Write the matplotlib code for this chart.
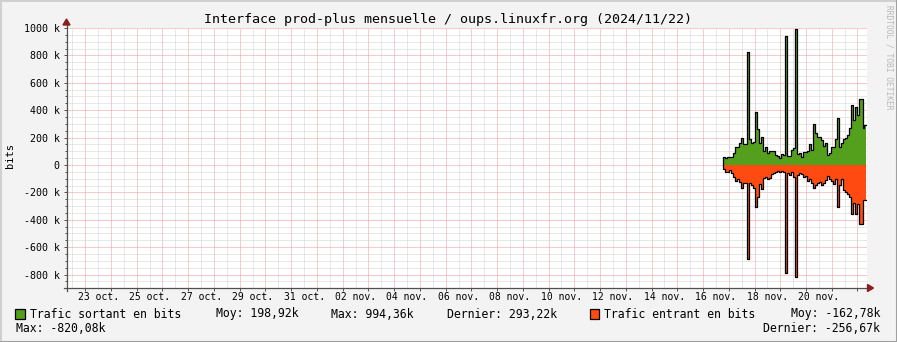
import matplotlib
matplotlib.use("Agg")
import matplotlib.pyplot as plt
from matplotlib.patches import Rectangle, Polygon
from matplotlib.lines import Line2D
from matplotlib.ticker import FixedLocator, FuncFormatter
import numpy as np
from datetime import datetime, timedelta

W, H = 897, 342
DPI = 100

title = "Interface prod-plus mensuelle / oups.linuxfr.org (2024/11/22)"
ylabel = "bits"
watermark = "RRDTOOL / TOBI OETIKER"

# time window of the graph
ref_time = datetime(2024, 10, 23)
view_start = datetime(2024, 10, 22, 6, 30)
view_end = datetime(2024, 11, 22, 8, 24)

# samples (kbit/s), consolidated steps
sample_start = datetime(2024, 11, 16, 18, 58)
sample_step_hours = 1.853
out_k = [60, 52, 55, 58, 58, 85, 129, 129, 158, 195, 151, 151, 827, 188, 163, 170,
         389, 260, 158, 207, 104, 129, 90, 100, 100, 100, 73, 66, 53, 78, 71, 942,
         66, 66, 110, 122, 994, 78, 88, 57, 95, 95, 102, 151, 110, 297, 231, 207,
         207, 185, 136, 158, 73, 85, 129, 129, 190, 341, 129, 158, 188, 195, 218, 268,
         436, 328, 421, 365, 480, 480, 268, 293]
in_k = [29, 49, 54, 37, 61, 85, 117, 102, 122, 170, 134, 134, 686, 134, 146, 170,
        304, 231, 141, 178, 97, 88, 102, 92, 68, 61, 54, 41, 54, 44, 54, 790,
        61, 73, 54, 85, 820, 73, 61, 68, 85, 78, 117, 102, 134, 170, 146, 134,
        122, 146, 134, 110, 78, 102, 117, 141, 102, 304, 146, 102, 183, 195, 214, 231,
        360, 275, 360, 287, 433, 433, 255, 257]

x_labels = ["23 oct.", "25 oct.", "27 oct.", "29 oct.", "31 oct.", "02 nov.", "04 nov.",
            "06 nov.", "08 nov.", "10 nov.", "12 nov.", "14 nov.", "16 nov.", "18 nov.",
            "20 nov."]
y_ticks = [-800e3, -600e3, -400e3, -200e3, 0, 200e3, 400e3, 600e3, 800e3, 1000e3]
y_labels = ["-800 k", "-600 k", "-400 k", "-200 k", "0", "200 k", "400 k", "600 k",
            "800 k", "1000 k"]
y_limits = (-898e3, 1000e3)

legend_out = ["Trafic sortant en bits", "Moy: 198,92k", "Max: 994,36k", "Dernier: 293,22k"]
legend_in = ["Trafic entrant en bits", "Moy: -162,78k", "Max: -820,08k", "Dernier: -256,67k"]

col_out = "#54A01C"
col_in = "#FF4A12"
col_bg = "#F3F3F3"
col_major = "#EC9898"
col_minor = "#D2D2D2"
col_axis = "#505050"
col_arrow = "#8B1E1E"
MONO = "DejaVu Sans Mono"


def days(d):
    return (d - ref_time).total_seconds() / 86400.0


def fx(px):
    return px / W


def fy(py):
    return 1 - py / H


fig = plt.figure(figsize=(W / DPI, H / DPI), dpi=DPI, facecolor=col_bg)

# frame of the canvas
fig.add_artist(Line2D([fx(0), fx(0)], [0, 1], transform=fig.transFigure, color="#D0D0D0", lw=2.2))
fig.add_artist(Line2D([0, 1], [fy(0), fy(0)], transform=fig.transFigure, color="#D0D0D0", lw=2.2))
fig.add_artist(Line2D([fx(W), fx(W)], [0, 1], transform=fig.transFigure, color="#A0A0A0", lw=2.2))
fig.add_artist(Line2D([0, 1], [fy(H), fy(H)], transform=fig.transFigure, color="#A0A0A0", lw=2.2))

ax_l, ax_r, ax_t, ax_b = 66.5, 866.5, 28, 288
ax = fig.add_axes([fx(ax_l), fy(ax_b), (ax_r - ax_l) / W, (ax_b - ax_t) / H])
ax.set_facecolor("white")

ax.set_xlim(days(view_start), days(view_end))
ax.set_ylim(*y_limits)

# grid
midnights = [days(ref_time + timedelta(days=i)) for i in range(-1, 32)]
noons = [m + 0.5 for m in midnights]
ax.xaxis.set_major_locator(FixedLocator(midnights))
label_pos = {round(days(ref_time) + 2 * i + 0.5, 4): lab for i, lab in enumerate(x_labels)}
ax.xaxis.set_minor_locator(FixedLocator(noons))
ax.xaxis.set_major_formatter(FuncFormatter(lambda v, p: ""))
ax.xaxis.set_minor_formatter(FuncFormatter(lambda v, p: label_pos.get(round(v, 4), "")))

ax.yaxis.set_major_locator(FixedLocator(y_ticks))
ax.set_yticklabels(y_labels)
ax.yaxis.set_minor_locator(FixedLocator(np.arange(-850e3, 1000e3 + 1, 50e3)))

ls = (0, (1, 1))
ax.grid(which="minor", color=col_minor, lw=0.72, linestyle=ls, zorder=0)
ax.grid(which="major", color=col_major, lw=0.72, linestyle=ls, zorder=0)
ax.set_axisbelow(True)

ax.tick_params(axis="x", which="major", length=2.5, width=0.7, color=col_axis, direction="out")
ax.tick_params(axis="x", which="minor", length=0, pad=3.2, labelsize=7, labelcolor="black")
ax.tick_params(axis="y", which="major", length=2.5, width=0.7, color=col_axis, direction="out",
               pad=2.4, labelsize=7.2, labelcolor="black")
ax.tick_params(axis="y", which="minor", length=1.5, width=0.7, color=col_axis, direction="out")
for lab in ax.get_xticklabels(minor=True) + ax.get_yticklabels():
    lab.set_fontfamily(MONO)

for s in ax.spines.values():
    s.set_visible(False)

# data
n = len(out_k)
step_days = sample_step_hours / 24.0
x0 = days(sample_start)
edges = x0 + step_days * np.arange(n + 1)
out_v = np.array(out_k, dtype=float) * 1000
in_v = -np.array(in_k, dtype=float) * 1000

yo = np.r_[out_v, out_v[-1]]
yi = np.r_[in_v, in_v[-1]]
ax.fill_between(edges, 0, yo, step="post", color=col_out, lw=0, zorder=2)
ax.fill_between(edges, 0, yi, step="post", color=col_in, lw=0, zorder=2)
ax.step(np.r_[edges[0], edges], np.r_[0, yo], where="post", color="black", lw=0.9, zorder=3)
ax.step(np.r_[edges[0], edges], np.r_[0, yi], where="post", color="black", lw=0.9, zorder=3)

# axes lines with arrows
fig.add_artist(Line2D([fx(ax_l), fx(ax_l)], [fy(ax_b + 3), fy(ax_t - 4)], transform=fig.transFigure,
                      color=col_axis, lw=0.9, zorder=5))
fig.add_artist(Line2D([fx(ax_l - 3), fx(ax_r + 3)], [fy(ax_b), fy(ax_b)], transform=fig.transFigure,
                      color=col_axis, lw=0.9, zorder=5))
fig.add_artist(Polygon([[fx(ax_l - 3.5), fy(ax_t - 3)], [fx(ax_l + 3.5), fy(ax_t - 3)],
                        [fx(ax_l), fy(ax_t - 9)]], closed=True, transform=fig.transFigure,
                       color=col_arrow, zorder=6))
fig.add_artist(Polygon([[fx(ax_r + 1), fy(ax_b - 3.5)], [fx(ax_r + 1), fy(ax_b + 3.5)],
                        [fx(ax_r + 7), fy(ax_b)]], closed=True, transform=fig.transFigure,
                       color=col_arrow, zorder=6))

# texts
fig.text(fx(448), fy(19), title, ha="center", va="center", family=MONO, fontsize=9.6, color="black")
fig.text(fx(10.5), fy(156), ylabel, ha="center", va="center", rotation=90, family=MONO,
         fontsize=7.5, color="black")
fig.text(fx(889), fy(5), watermark, ha="center", va="top", rotation=270, family=MONO,
         fontsize=5.7, color="#B8B8B8")

# legend
lfs = 8.3
r1, r2 = 314, 328
fig.add_artist(Rectangle((fx(15), fy(319)), 9.5 / W, 10 / H, transform=fig.transFigure,
                         facecolor=col_out, edgecolor="black", lw=0.9))
fig.text(fx(30), fy(r1), legend_out[0], ha="left", va="center", family=MONO, fontsize=lfs)
fig.text(fx(216), fy(r1), legend_out[1], ha="left", va="center", family=MONO, fontsize=lfs)
fig.text(fx(331), fy(r1), legend_out[2], ha="left", va="center", family=MONO, fontsize=lfs)
fig.text(fx(447), fy(r1), legend_out[3], ha="left", va="center", family=MONO, fontsize=lfs)
fig.add_artist(Rectangle((fx(589.5), fy(319)), 9.5 / W, 10 / H, transform=fig.transFigure,
                         facecolor=col_in, edgecolor="black", lw=0.9))
fig.text(fx(604), fy(r1), legend_in[0], ha="left", va="center", family=MONO, fontsize=lfs)
fig.text(fx(880), fy(r1), legend_in[1], ha="right", va="center", family=MONO, fontsize=lfs)
fig.text(fx(16), fy(r2), legend_in[2], ha="left", va="center", family=MONO, fontsize=lfs)
fig.text(fx(880), fy(r2), legend_in[3], ha="right", va="center", family=MONO, fontsize=lfs)

fig.savefig("out.png", dpi=DPI, facecolor=col_bg)
